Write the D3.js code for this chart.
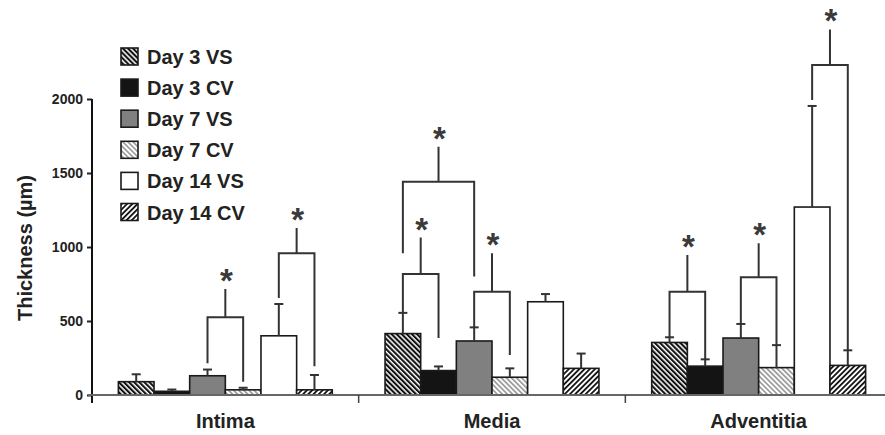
<!DOCTYPE html>
<html>
<head>
<meta charset="utf-8">
<script src="https://cdn.jsdelivr.net/npm/d3@7"></script>
<style>
	body { margin: 0; background: #fff; }
	svg { font-family: "Liberation Sans", Arial, sans-serif; font-weight: bold; }
</style>
</head>
<body>
<svg id="chart" width="885" height="435"></svg>
<script>
// data
const groups = ["Intima", "Media", "Adventitia"];
const series = ["Day 3 VS", "Day 3 CV", "Day 7 VS", "Day 7 CV", "Day 14 VS", "Day 14 CV"];

const intimaMean = [90, 25, 130, 35, 400, 35];
const intimaErr = [50, 12, 42, 14, 215, 100];
const mediaMean = [415, 165, 365, 120, 630, 180];
const mediaErr = [140, 28, 92, 60, 52, 100];
const adventitiaMean = [355, 195, 385, 185, 1270, 200];
const adventitiaErr = [35, 46, 95, 152, 683, 102];

const yTicks = [0, 500, 1000, 1500, 2000];

// significance brackets: [group, left bar, right bar, level, left leg end, right leg end, top]
const brackets = [
	[0, 2, 3, 525, 215, 90, 716],
	[0, 4, 5, 957, 655, 195, 1128],
	[1, 0, 1, 817, 556, 385, 1064],
	[1, 2, 3, 698, 457, 270, 957],
	[1, 0, 2, 1441, 957, 800, 1677],
	[2, 0, 1, 698, 390, 241, 946],
	[2, 2, 3, 795, 480, 338, 1025],
	[2, 4, 5, 2230, 1993, 304, 2470]
];

const means = [intimaMean, mediaMean, adventitiaMean];
const errs = [intimaErr, mediaErr, adventitiaErr];
const rows = [];
groups.forEach((g, gi) => {
	series.forEach((s, si) => {
		rows.push({ group: g, series: s, si: si, mean: means[gi][si], err: errs[gi][si] });
	});
});

const svg = d3.select('#chart');

// patterns
const defs = svg.append('defs');
const addStripes = (id, angle, color, period, thick) => {
	const p = defs.append('pattern')
		.attr('id', id)
		.attr('patternUnits', 'userSpaceOnUse')
		.attr('width', period)
		.attr('height', 10)
		.attr('patternTransform', `rotate(${angle})`);
	p.append('rect').attr('width', period).attr('height', 10).attr('fill', '#fff');
	p.append('rect').attr('width', thick).attr('height', 10).attr('fill', color);
};
addStripes('d3vs', -45, '#111', 3.6, 2.1);
addStripes('d7cv', -45, '#9a9a9a', 3.6, 1.7);
addStripes('d14cv', 45, '#111', 3.7, 1.8);

const fills = ['url(#d3vs)', '#141414', '#808080', 'url(#d7cv)', '#ffffff', 'url(#d14cv)'];

// scales
const x0 = d3.scaleBand()
	.domain(groups)
	.range([92, 892]);
const x1 = d3.scaleBand()
	.domain(series)
	.range([0, x0.bandwidth()])
	.paddingOuter(0.74);
const y = d3.scaleLinear()
	.domain([0, 2000])
	.range([395, 99]);

const barX = (g, si) => x0(g) + x1(series[si]);
const barMid = (g, si) => barX(g, si) + x1.bandwidth() / 2;

// bars
svg.append('g')
	.selectAll('rect')
	.data(rows)
	.join('rect')
		.attr('x', d => barX(d.group, d.si))
		.attr('y', d => y(d.mean))
		.attr('width', x1.bandwidth())
		.attr('height', d => y(0) - y(d.mean))
		.attr('fill', d => fills[d.si])
		.attr('stroke', '#1a1a1a')
		.attr('stroke-width', 1.6);

// error bars
const errG = svg.append('g')
	.attr('stroke', '#333')
	.attr('stroke-width', 2);
errG.selectAll('.stem')
	.data(rows)
	.join('line')
		.attr('class', 'stem')
		.attr('x1', d => barMid(d.group, d.si))
		.attr('x2', d => barMid(d.group, d.si))
		.attr('y1', d => y(d.mean))
		.attr('y2', d => y(d.mean + d.err));
errG.selectAll('.cap')
	.data(rows)
	.join('line')
		.attr('class', 'cap')
		.attr('x1', d => barMid(d.group, d.si) - 4.5)
		.attr('x2', d => barMid(d.group, d.si) + 4.5)
		.attr('y1', d => y(d.mean + d.err))
		.attr('y2', d => y(d.mean + d.err));

// brackets
const brG = svg.append('g');
brG.selectAll('path')
	.data(brackets)
	.join('path')
		.attr('fill', 'none')
		.attr('stroke', '#333')
		.attr('stroke-width', 2)
		.attr('d', d => {
			const g = groups[d[0]];
			const xl = barMid(g, d[1]);
			const xr = barMid(g, d[2]);
			const xm = (xl + xr) / 2;
			return `M${xl},${y(d[4])}V${y(d[3])}H${xr}V${y(d[5])}M${xm},${y(d[3])}V${y(d[6])}`;
		});
brG.selectAll('text')
	.data(brackets)
	.join('text')
		.attr('x', d => (barMid(groups[d[0]], d[1]) + barMid(groups[d[0]], d[2])) / 2 + 1)
		.attr('y', d => y(d[6]) + 3)
		.attr('text-anchor', 'middle')
		.attr('font-size', 33)
		.attr('fill', '#3a3a3a')
		.text('*');

// Axes
const yAxis = svg.append('g')
	.attr('transform', 'translate(92,0)')
	.call(d3.axisLeft(y).tickValues(yTicks).tickSize(5).tickPadding(4).tickFormat(d3.format('d')));
yAxis.select('.domain').remove();
yAxis.selectAll('.tick line').attr('stroke', '#222').attr('stroke-width', 2);
yAxis.selectAll('.tick text')
	.attr('font-size', 14)
	.attr('font-family', '"Liberation Sans", Arial, sans-serif')
	.attr('font-weight', 'bold')
	.attr('fill', '#222');
svg.append('line')
	.attr('x1', 92).attr('x2', 92)
	.attr('y1', y(2000)).attr('y2', 403)
	.attr('stroke', '#111')
	.attr('stroke-width', 2);

svg.append('line')
	.attr('x1', 88).attr('x2', 885)
	.attr('y1', y(0)).attr('y2', y(0))
	.attr('stroke', '#666')
	.attr('stroke-width', 2);
svg.append('g')
	.selectAll('line')
	.data(groups.slice(1))
	.join('line')
		.attr('x1', d => x0(d)).attr('x2', d => x0(d))
		.attr('y1', y(0)).attr('y2', 403)
		.attr('stroke', '#444')
		.attr('stroke-width', 1.5);

svg.append('g')
	.selectAll('text')
	.data(groups)
	.join('text')
		.attr('x', d => x0(d) + x0.bandwidth() / 2)
		.attr('y', 428)
		.attr('text-anchor', 'middle')
		.attr('font-size', 20)
		.attr('fill', '#222')
		.text(d => d);

svg.append('text')
	.attr('transform', 'translate(32,248) rotate(-90)')
	.attr('text-anchor', 'middle')
	.attr('font-size', 20)
	.attr('fill', '#222')
	.text('Thickness (µm)');

// legend
const legend = svg.append('g')
	.selectAll('g')
	.data(series)
	.join('g')
		.attr('transform', (d, i) => `translate(121,${48 + 31.1 * i})`);
legend.append('rect')
	.attr('width', 17)
	.attr('height', 17)
	.attr('fill', (d, i) => fills[i])
	.attr('stroke', '#1a1a1a')
	.attr('stroke-width', 1.6);
legend.append('text')
	.attr('x', 26)
	.attr('y', 16)
	.attr('font-size', 20)
	.attr('fill', '#222')
	.text(d => d);
</script>
</body>
</html>
